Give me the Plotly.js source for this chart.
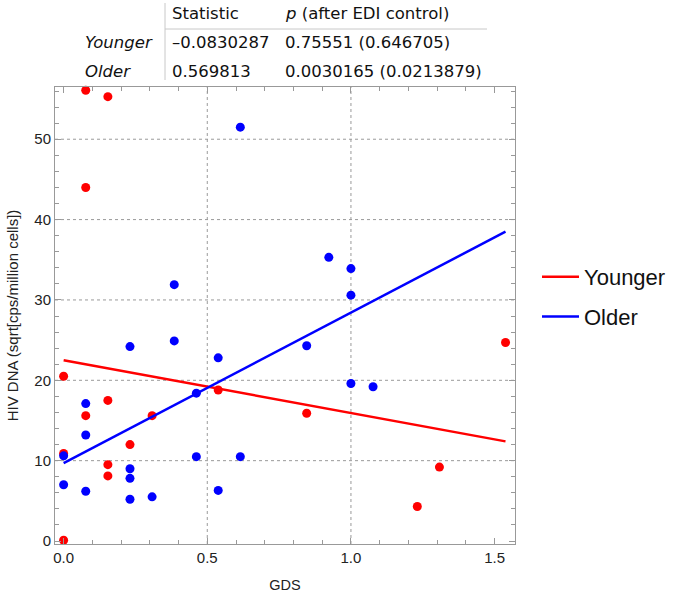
<!DOCTYPE html>
<html>
<head>
<meta charset="utf-8">
<script src="https://cdn.plot.ly/plotly-3.0.1.min.js"></script>
<style>html,body{margin:0;padding:0;background:#fff;}#chart{width:675px;height:597px;}</style>
</head>
<body>
<div id="chart"></div>
<script>
// Data
const youngerX = [0.077, 0.154, 0.077, 0, 0.077, 0.154, 0.308, 0.231, 0.154, 0.154, 0, 0, 0.538, 0.846, 1.308, 1.231, 1.538];
const youngerY = [56.1, 55.3, 44.0, 20.5, 15.6, 17.5, 15.6, 12.0, 9.5, 8.1, 0.1, 10.9, 18.8, 15.9, 9.2, 4.3, 24.7];
const olderX = [0.385, 0.615, 0, 0, 0.077, 0.077, 0.077, 0.231, 0.231, 0.231, 0.231, 0.308, 0.385, 0.462, 0.462, 0.538, 0.538, 0.615, 0.923, 1.0, 1.0, 0.846, 1.0, 1.077];
const olderY = [31.9, 51.5, 10.6, 7.0, 17.1, 13.2, 6.2, 24.2, 9.0, 7.8, 5.2, 5.5, 24.9, 18.4, 10.5, 22.8, 6.3, 10.5, 35.3, 33.9, 30.6, 24.3, 19.6, 19.2];
const fitX = [0, 1.538];
const youngerFitY = [22.5, 12.4];
const olderFitY = [9.7, 38.5];
const seriesNames = ["Younger", "Older"];

const tableHeader = ["Statistic", "<i>p</i> (after EDI control)"];
const tableRows = ["Younger", "Older"];
const tableStat = ["\u20130.0830287", "0.569813"];
const tableP = ["0.75551 (0.646705)", "0.0030165 (0.0213879)"];

const gridX = [0.5, 1.0];
const gridY = [10, 20, 30, 40, 50];

const RED = "rgb(255,0,0)", BLUE = "rgb(0,0,255)";

const traces = [
  {x: youngerX, y: youngerY, mode: "markers", type: "scatter", marker: {color: RED, size: 9}, showlegend: false, cliponaxis: false, hoverinfo: "skip"},
  {x: olderX, y: olderY, mode: "markers", type: "scatter", marker: {color: BLUE, size: 9}, showlegend: false, cliponaxis: false, hoverinfo: "skip"},
  {x: fitX, y: youngerFitY, mode: "lines", type: "scatter", name: seriesNames[0], line: {color: RED, width: 2.5}, legendgroup: "a"},
  {x: fitX, y: olderFitY, mode: "lines", type: "scatter", name: seriesNames[1], line: {color: BLUE, width: 2.5}, legendgroup: "b"}
];

const L = 55, R = 160, T = 87, B = 53, W = 675, H = 597;
const pw = W - L - R, ph = H - T - B;
const px = v => (v - L) / pw;
const py = v => (H - B - v) / ph;

const shapes = [];
gridX.forEach(g => shapes.push({type: "line", xref: "x", yref: "paper", x0: g, x1: g, y0: 0, y1: 1, layer: "below", line: {color: "#9a9a9a", width: 1, dash: "dot"}}));
gridY.forEach(g => shapes.push({type: "line", xref: "paper", yref: "y", x0: 0, x1: 1, y0: g, y1: g, layer: "below", line: {color: "#9a9a9a", width: 1, dash: "dot"}}));
// table dividers
shapes.push({type: "line", xref: "paper", yref: "paper", x0: px(165), x1: px(165), y0: py(3), y1: py(80), line: {color: "#c8c8c8", width: 1}});
shapes.push({type: "line", xref: "paper", yref: "paper", x0: px(165), x1: px(487), y0: py(29), y1: py(29), line: {color: "#c8c8c8", width: 1}});

const tfont = {family: "DejaVu Sans", size: 16.5, color: "#111"};
const annotations = [];
const colX = [170, 283];
const rowY = [43, 71];
tableHeader.forEach((t, i) => annotations.push({xref: "paper", yref: "paper", x: px(colX[i]), y: py(13), text: t, showarrow: false, xanchor: "left", yanchor: "middle", font: tfont}));
tableRows.forEach((t, i) => {
  annotations.push({xref: "paper", yref: "paper", x: px(83), y: py(rowY[i]), text: "<i>" + t + "</i>", showarrow: false, xanchor: "left", yanchor: "middle", font: tfont});
  annotations.push({xref: "paper", yref: "paper", x: px(colX[0]), y: py(rowY[i]), text: tableStat[i], showarrow: false, xanchor: "left", yanchor: "middle", font: tfont});
  annotations.push({xref: "paper", yref: "paper", x: px(colX[1]), y: py(rowY[i]), text: tableP[i], showarrow: false, xanchor: "left", yanchor: "middle", font: tfont});
});

const axisCommon = {
  showgrid: false, zeroline: false, showline: true, linecolor: "#999", linewidth: 1,
  mirror: "allticks", ticks: "inside", ticklen: 6, tickcolor: "#999", tickwidth: 1,
  tickfont: {family: "Liberation Sans, Arial", size: 15, color: "#222"}
};

const layout = {
  width: W, height: H,
  margin: {l: L, r: R, t: T, b: B, autoexpand: false},
  paper_bgcolor: "#fff", plot_bgcolor: "#fff",
  xaxis: Object.assign({}, axisCommon, {
    range: [-0.03, 1.571], tick0: 0, dtick: 0.5, tickformat: ".1f",
    minor: {dtick: 0.1, tick0: 0, ticks: "inside", ticklen: 4, tickcolor: "#999", showgrid: false},
    title: {text: "GDS", font: {family: "Liberation Sans, Arial", size: 14.5, color: "#222"}, standoff: 14}
  }),
  yaxis: Object.assign({}, axisCommon, {
    range: [-0.37, 56.5], tick0: 0, dtick: 10,
    minor: {dtick: 2, tick0: 0, ticks: "inside", ticklen: 4, tickcolor: "#999", showgrid: false},
    title: {text: "HIV DNA (sqrt[cps/million cells])", font: {family: "Liberation Sans, Arial", size: 15, color: "#222"}, standoff: 12}
  }),
  showlegend: true,
  legend: {x: px(537), y: py(256), xanchor: "left", yanchor: "top", font: {family: "Liberation Sans, Arial", size: 22, color: "#111"}, traceorder: "grouped", tracegroupgap: 8, itemwidth: 37, bgcolor: "rgba(0,0,0,0)"},
  shapes: shapes,
  annotations: annotations
};

Plotly.newPlot("chart", traces, layout, {displayModeBar: false, staticPlot: true});
</script>
</body>
</html>
